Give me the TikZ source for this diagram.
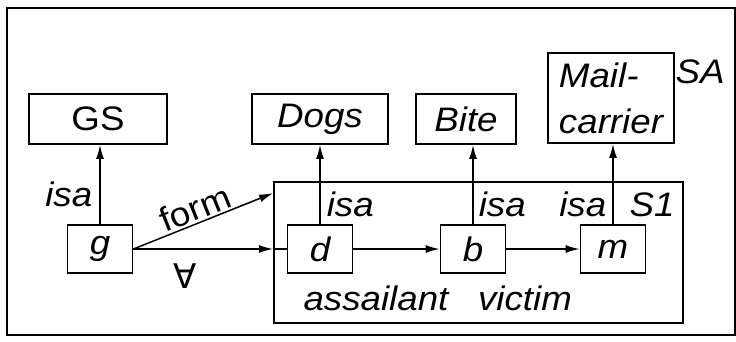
\documentclass[tikz,border=0pt]{standalone}
\usepackage{fontspec}
\setmainfont{Liberation Sans}[FakeStretch=1.08]
\newfontfamily\dejavu{DejaVu Sans}
\usetikzlibrary{positioning,calc,arrows.meta}

\begin{document}
\begin{tikzpicture}[
			x=1pt, y=-1pt,
			box/.style={draw, line width=1.8pt, inner sep=0pt,
				minimum height=50pt, font=\fontsize{34}{38}\selectfont\itshape},
			item/.style={draw, line width=1.8pt, inner sep=0pt,
				minimum width=65pt, minimum height=48pt,
				font=\fontsize{34}{38}\selectfont\itshape},
			lbl/.style={inner sep=0pt, font=\fontsize{34}{38}\selectfont\itshape},
			link/.style={line width=1.5pt, -{Latex[length=14pt,width=8pt]}}
			]
			
			\useasboundingbox (0,0) rectangle (736,341);
			
			% Frame
			\draw[line width=2pt] (7,8) rectangle (734.5,335);
			
			% Situation S1
			\node[
			draw,
			line width=1.8pt,
			minimum width=409pt,
			minimum height=141pt
			]
			(S1) at (478.5,252.5) {};
			
			% Concepts
			\node[box, minimum width=138pt, font=\fontsize{34}{38}\selectfont]
			(GS) at (98,119) {GS};
			\node[box, minimum width=136pt] (Dogs) at (320,119) {Dogs};
			\node[box, minimum width=100pt] (Bite) at (466,119) {Bite};
			\node[
			box,
			minimum width=126pt,
			minimum height=90pt,
			align=left,
			font=\fontsize{34}{46}\selectfont\itshape
			]
			(Mail) at (611,98) {Mail-\\carrier};
			
			% Individuals
			\node[item] (g) at (100,249) {g};
			\node[item] (d) at (320,249) {d};
			\node[item] (b) at (473,249) {b};
			\node[item] (m) at (613,249) {m};
			
			% Labels of situations
			\node[lbl] (SA) at (700,72) {SA};
			\node[lbl] (S1name) at (652,205) {S1};
			\node[lbl] (assailant) at (376,298) {assailant};
			\node[lbl] (victim) at (525,298) {victim};
			
			% isa links
			\draw[link] (g.north) -- node[lbl, pos=.37, left=7pt] {isa} (g.north |- GS.south);
			\draw[link] (d.north) -- node[lbl, pos=.25, right=6pt] {isa} (d.north |- Dogs.south);
			\draw[link] (b.north) -- node[lbl, pos=.25, right=5pt] {isa} (b.north |- Bite.south);
			\draw[link] (m.north) -- node[lbl, pos=.25, left=6pt] {isa} (m.north |- Mail.south);
			
			% form and quantifier
			\coordinate (formend) at ($(S1.north west)+(0,12)$);
			\coordinate (allend) at (g.east -| S1.west);
			\draw[link] (g.east) -- node[lbl, pos=.48, sloped, above=2pt, font=\fontsize{34}{38}\selectfont] {form} (formend);
			\draw[link] (g.east) -- node[lbl, pos=.37, below=14pt, font=\fontsize{34}{38}\dejavu] {∀} (allend);
			\draw[line width=1.5pt] (allend) -- (d.west);
			
			% Relations
			\draw[link] (d.east) -- (b.west);
			\draw[link] (b.east) -- (m.west);
			
		\end{tikzpicture}
\end{document}
